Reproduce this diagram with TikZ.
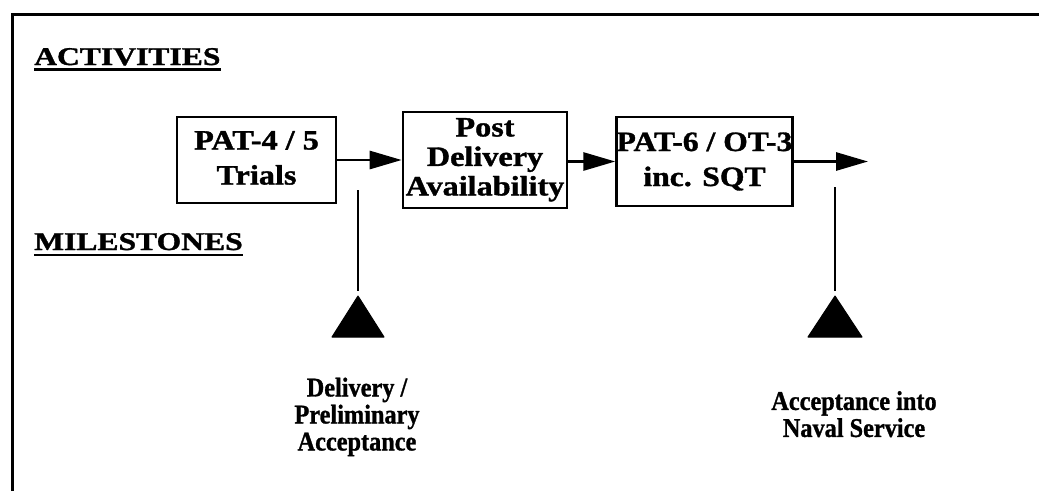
\documentclass[tikz,border=0pt]{standalone}
\usepackage{fontspec}
\setmainfont{Liberation Serif}[BoldFeatures={FakeBold=1.2}]
\usepackage{graphicx}
\usetikzlibrary{arrows.meta}

% bold text block, several lines centred, stretched or narrowed across
\newcommand{\widetext}[4]{\scalebox{#1}[1]{\fontsize{#2}{#3}\selectfont\bfseries\begin{tabular}{@{}c@{}}#4\end{tabular}}}

\tikzset{
  frameline/.style={line width=3pt},
  stagebox/.style={draw, line width=2.6pt, inner sep=0pt},
  flowarrow/.style={line width=2.8pt, -{Triangle[length=32pt,width=18pt]}},
  stemline/.style={line width=2.6pt},
  marker/.style={fill=black, draw=black, line width=1pt, line join=round},
  heading/.style={inner sep=0pt, anchor=base west},
  ulinestyle/.style={line width=2.6pt},
  caption/.style={inner sep=0pt, align=center}
}

\begin{document}
\begin{tikzpicture}[x=1pt, y=-1pt]
\useasboundingbox (0,0) rectangle (1039,491);

% frame (top and left edges)
\coordinate (ftl) at (12,14);
\coordinate (ftr) at (1039,14);
\coordinate (fbl) at (12,491);
\draw[frameline] (fbl) -- (ftl) -- (ftr);

% section headings
\node[heading] (act) at (34,65) {\scalebox{1.24}[1]{\fontsize{25.5}{28}\selectfont\bfseries ACTIVITIES}};
\draw[ulinestyle] ([yshift=-4.5pt]act.base west) -- ([yshift=-4.5pt]act.base east);
\node[heading] (mil) at (34,250) {\scalebox{1.24}[1]{\fontsize{25.5}{28}\selectfont\bfseries MILESTONES}};
\draw[ulinestyle] ([yshift=-5pt]mil.base west) -- ([yshift=-5pt]mil.base east);

% activity boxes
\node[stagebox, minimum width=159pt, minimum height=86pt] (b1) at (256.5,160)
  {\widetext{1.15}{28}{35}{PAT-4 / 5\\Trials}};
\node[stagebox, minimum width=164pt, minimum height=96pt] (b2) at (485,160)
  {\widetext{1.15}{28}{29.5}{Post\\Delivery\\Availability}};
\node[stagebox, minimum width=175pt, minimum height=89pt] (b3) at (704.5,161.5)
  {\widetext{1.13}{28}{35}{PAT-6 / OT-3\\inc. SQT}};

% flow arrows
\coordinate (endflow) at (868,161.5);
\draw[flowarrow] (b1.east) -- (b2.west);
\draw[flowarrow] (b2.east |- b3.west) -- (b3.west);
\draw[flowarrow] (b3.east) -- (endflow);

% milestone stems and markers
\coordinate (s1top) at (358,190);
\coordinate (s1tip) at (358,296);
\coordinate (s2top) at (835,187);
\coordinate (s2tip) at (835,296);
\draw[stemline] (s1top) -- (358,291);
\draw[stemline] (s2top) -- (835,291);
\fill[marker] (s1tip) -- (384,337) -- (332,337) -- cycle;
\fill[marker] (s2tip) -- (862,337) -- (808,337) -- cycle;

% milestone captions
\node[caption] (m1) at (357,418)
  {\widetext{0.9}{27}{27}{Delivery /\\Preliminary\\Acceptance}};
\node[caption] (m2) at (854,418)
  {\widetext{0.9}{27}{27}{Acceptance into\\Naval Service}};
\end{tikzpicture}
\end{document}
